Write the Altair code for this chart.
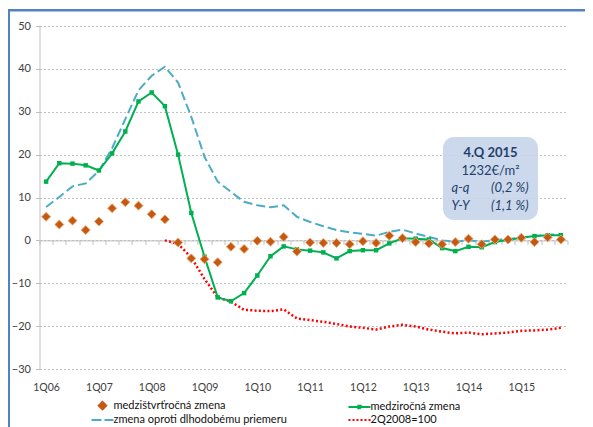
import altair as alt
import pandas as pd

# ---------------- data ----------------
quarters = [f"{q}Q{y:02d}" for y in range(6, 16) for q in range(1, 5)]

qoq = [5.5, 3.7, 4.6, 2.4, 4.4, 7.5, 8.9, 8.1, 6.1, 4.9,
       -0.5, -4.2, -4.4, -5.1, -1.5, -2.0, -0.1, -0.3, 0.8, -2.6,
       -0.5, -0.6, -0.6, -0.9, -0.2, -0.6, 1.1, 0.5, -0.4, -0.7,
       -0.9, -0.4, 0.4, -0.9, 0.2, 0.2, 0.6, -0.4, 0.7, 0.2]

yoy = [13.7, 18.0, 17.9, 17.5, 16.3, 20.3, 25.4, 32.4, 34.5, 31.3,
       20.0, 6.4, -3.8, -13.3, -14.2, -12.3, -8.2, -3.7, -1.4, -2.1,
       -2.4, -2.8, -4.2, -2.5, -2.3, -2.3, -0.7, 0.5, 0.4, 0.2,
       -1.8, -2.5, -1.5, -1.6, -0.4, 0.1, 0.6, 1.0, 1.2, 1.2]

avg = [7.8, 10.1, 12.6, 13.3, 16.2, 21.5, 28.3, 35.0, 38.4, 40.5,
       36.8, 28.8, 19.5, 13.7, 11.3, 9.0, 8.2, 7.7, 8.2, 5.5,
       4.3, 3.3, 2.4, 1.9, 1.5, 1.1, 2.0, 2.5, 1.6, 0.8,
       0.0, -0.3, 0.0, -0.3, 0.1, 0.3, 0.7, 1.0, 1.3, 1.4]

idx = [None, None, None, None, None, None, None, None, None, 0.0,
       -0.8, -4.0, -9.0, -13.3, -14.3, -16.2, -16.4, -16.5, -16.1, -18.2,
       -18.6, -19.0, -19.5, -20.1, -20.4, -20.8, -20.1, -19.7, -20.1, -20.8,
       -21.3, -21.7, -21.5, -21.9, -21.7, -21.5, -21.1, -21.0, -20.8, -20.4]

series_names = ["medzištvrťročná zmena", "medziročná zmena",
                "zmena oproti dlhodobému priemeru", "2Q2008=100"]
y_ticks = [-30, -20, -10, 0, 10, 20, 30, 40, 50]

ann_title = "4.Q 2015"
ann_price = "1232€/m²"
ann_labels = ["q-q", "Y-Y"]
ann_values = ["(0,2 %)", "(1,1 %)"]

# ---------------- styles ----------------
C_QOQ = "#c65911"
C_YOY = "#00b050"
C_AVG = "#4bacc6"
C_IDX = "#ff0000"
C_ANN = "#243f6b"
FONT = "Lato"
W, H = 528, 343

df = pd.DataFrame({"q": quarters, "qoq": qoq, "yoy": yoy, "avg": avg, "idx": idx})

x_axis = alt.Axis(
    title=None, offset=-128.6, domainColor="#bfbfbf", domainWidth=1,
    tickColor="#bfbfbf", tickSize=4, tickBand="extent",
    labelExpr="substring(datum.label, 0, 2) == '1Q' ? datum.label : ''",
    labelAngle=0, labelOverlap=False, labelPadding=138, labelFont=FONT,
    labelFontSize=10.5, labelColor="#404040", grid=False,
)
x_enc = alt.X("q:O", sort=quarters, title=None,
              scale=alt.Scale(type="band", domain=quarters, paddingInner=0, paddingOuter=0),
              axis=x_axis)
y_scale = alt.Scale(domain=[-30, 50], nice=False, zero=False)
y_axis = alt.Axis(
    title=None, values=y_ticks, grid=True, gridColor="#c0c0c0", gridDash=[2, 2],
    domainColor="#bfbfbf", tickColor="#bfbfbf", tickSize=4, labelFont=FONT,
    labelFontSize=11, labelColor="#404040", labelPadding=5,
)


def y_of(col):
    return alt.Y(f"{col}:Q", scale=y_scale, axis=y_axis, title=None)


base = alt.Chart(df)

avg_line = base.mark_line(color=C_AVG, strokeWidth=2, strokeDash=[9, 4]).encode(
    x=x_enc, y=y_of("avg"))
idx_line = base.transform_filter("isValid(datum.idx)").mark_line(
    color=C_IDX, strokeWidth=2.5, strokeDash=[2, 2.3]).encode(x=x_enc, y=y_of("idx"))
yoy_line = base.mark_line(
    color=C_YOY, strokeWidth=2,
    point=alt.OverlayMarkDef(shape="square", size=20, filled=True, color=C_YOY, opacity=1),
).encode(x=x_enc, y=y_of("yoy"))
qoq_pts = base.mark_point(shape="diamond", filled=True, size=80, color=C_QOQ, opacity=1,
                          stroke="#e9a46c", strokeWidth=1).encode(x=x_enc, y=y_of("qoq"))

# ---------------- legend ----------------
leg_shapes = [
    "M0,-0.75L0.75,0L0,0.75L-0.75,0Z",
    "M-2.2,0L2.2,0M-0.25,-0.25L0.25,-0.25L0.25,0.25L-0.25,0.25Z",
    "M-2.2,0L2.2,0",
    "M-2.2,0L2.2,0",
]
leg_colors = [C_QOQ, C_YOY, C_AVG, C_IDX]
leg_dashes = [[1, 0], [1, 0], [10, 3], [2, 2]]
legend = alt.Legend(
    title=None, orient="none", legendX=57, legendY=373.5, columns=2, direction="horizontal",
    symbolSize=100, symbolStrokeWidth=2, symbolOpacity=1, labelOffset=5, labelLimit=400,
    rowPadding=0.5, columnPadding=57, labelFont=FONT, labelFontSize=11,
    labelColor="#111111", padding=0,
)
leg_df = pd.DataFrame({"series": series_names})
legend_layer = alt.Chart(leg_df).mark_point(filled=True, opacity=0, size=100, strokeWidth=2).encode(
    color=alt.Color("series:N", scale=alt.Scale(domain=series_names, range=leg_colors), legend=legend),
    stroke=alt.Stroke("series:N", scale=alt.Scale(domain=series_names, range=leg_colors), legend=legend),
    shape=alt.Shape("series:N", scale=alt.Scale(domain=series_names, range=leg_shapes), legend=legend),
    strokeDash=alt.StrokeDash("series:N", scale=alt.Scale(domain=series_names, range=leg_dashes), legend=legend),
)

# ---------------- annotation box ----------------
one = pd.DataFrame({"k": [0]})
ann_box = alt.Chart(one).mark_rect(cornerRadius=11, color="#c6d5ea", opacity=0.9).encode(
    x=alt.value(403.5), x2=alt.value(498.5), y=alt.value(111), y2=alt.value(194))
ann_t1 = alt.Chart(one).mark_text(
    font=FONT, fontSize=13, fontWeight="bold", color=C_ANN, align="center", baseline="middle",
    text=ann_title).encode(x=alt.value(451), y=alt.value(127))
ann_t2 = alt.Chart(one).mark_text(
    font=FONT, fontSize=13, color=C_ANN, align="center", baseline="middle",
    text=ann_price).encode(x=alt.value(451), y=alt.value(144.5))
ann_rows = []
for i, (lab, val) in enumerate(zip(ann_labels, ann_values)):
    yy = 162 + 18 * i
    ann_rows.append(alt.Chart(one).mark_text(
        font=FONT, fontSize=13, fontStyle="italic", color=C_ANN, align="left",
        baseline="middle", text=lab).encode(x=alt.value(412), y=alt.value(yy)))
    ann_rows.append(alt.Chart(one).mark_text(
        font=FONT, fontSize=13, fontStyle="italic", color=C_ANN, align="right",
        baseline="middle", text=val).encode(x=alt.value(489), y=alt.value(yy)))

# ---------------- outer frame ----------------
frame_left = alt.Chart(one).mark_rect(color="#5282c2").encode(
    x=alt.value(-32), x2=alt.value(-29.5), y=alt.value(-17), y2=alt.value(H + 70))
frame_top = alt.Chart(one).mark_rect(color="#5282c2").encode(
    x=alt.value(-32), x2=alt.value(W + 40), y=alt.value(-17), y2=alt.value(-14.5))

chart = alt.layer(
    avg_line, idx_line, yoy_line, qoq_pts, ann_box, ann_t1, ann_t2, *ann_rows,
    legend_layer, frame_left, frame_top,
).properties(
    width=W, height=H,
    autosize=alt.AutoSizeParams(type="none"),
    padding={"left": 31.5, "top": 18, "right": 17.5, "bottom": 58},
    background="white",
).configure_view(stroke=None, fill="#e9eff8")

chart.save("out.html", embed_options={"renderer": "svg", "actions": False})
